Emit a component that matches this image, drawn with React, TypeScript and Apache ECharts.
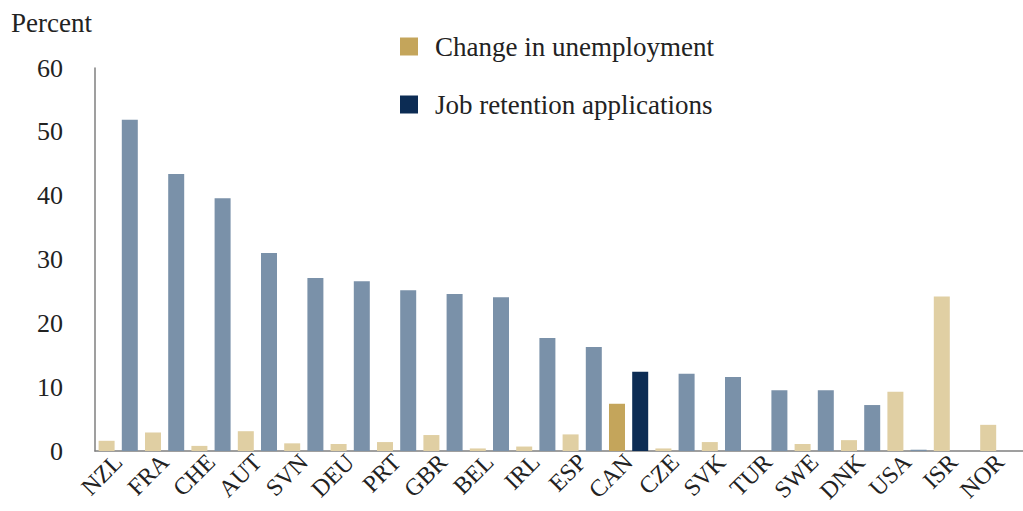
import React, { useEffect, useRef } from "react";
import * as echarts from "echarts";

const categories = ["NZL","FRA","CHE","AUT","SVN","DEU","PRT","GBR","BEL","IRL","ESP","CAN","CZE","SVK","TUR","SWE","DNK","USA","ISR","NOR"];
const unemployment = [1.6, 2.9, 0.8, 3.1, 1.2, 1.1, 1.4, 2.5, 0.4, 0.7, 2.6, 7.4, 0.4, 1.4, 0, 1.1, 1.7, 9.3, 24.2, 4.1];
const jobRetention = [51.9, 43.4, 39.6, 31.0, 27.1, 26.6, 25.2, 24.6, 24.1, 17.7, 16.3, 12.4, 12.1, 11.6, 9.5, 9.5, 7.2, 0.2, null, null];
const yTicks = [0, 10, 20, 30, 40, 50, 60];
const highlight = "CAN";

const FONT = "'Liberation Serif', 'DejaVu Serif', serif";

export default function App() {
  const ref = useRef<HTMLDivElement>(null);
  useEffect(() => {
    const chart = echarts.init(ref.current!, null, { renderer: "svg" });
    chart.setOption({
      animation: false,
      textStyle: { fontFamily: FONT },
      grid: { left: 95, top: 68, width: 940, height: 383, containLabel: false },
      title: {
        text: "Percent",
        left: 6,
        top: 4,
        textStyle: { fontFamily: FONT, fontSize: 27, fontWeight: "normal", color: "#222" },
      },
      legend: {
        orient: "vertical",
        left: 395,
        top: 28,
        itemWidth: 18,
        itemHeight: 18,
        itemGap: 31,
        textStyle: { fontFamily: FONT, fontSize: 27, color: "#222", padding: [0, 0, 0, 12] },
        data: [
          { name: "Change in unemployment", icon: "rect", itemStyle: { color: "#c4a55b" } },
          { name: "Job retention applications", icon: "rect", itemStyle: { color: "#0c2c54" } },
        ],
      },
      xAxis: {
        type: "category",
        data: categories,
        axisLine: { lineStyle: { color: "#7f7f7f", width: 1.5 } },
        axisTick: { show: false },
        axisLabel: { rotate: 45, fontSize: 24, color: "#222", fontFamily: FONT, margin: 7, interval: 0 },
      },
      yAxis: {
        type: "value",
        min: 0,
        max: 60,
        interval: 10,
        splitLine: { show: false },
        axisLine: { show: true, lineStyle: { color: "#7f7f7f", width: 1.5 } },
        axisTick: { show: false },
        axisLabel: {
          fontSize: 26,
          color: "#222",
          fontFamily: FONT,
          margin: 32,
          formatter: (v: number) => (yTicks.includes(v) ? String(v) : ""),
        },
      },
      series: [
        {
          name: "Change in unemployment",
          type: "bar",
          barWidth: 16,
          barGap: "45%",
          itemStyle: { color: "#e0cfa3" },
          data: unemployment.map((v, i) =>
            categories[i] === highlight ? { value: v, itemStyle: { color: "#c4a55b" } } : v
          ),
        },
        {
          name: "Job retention applications",
          type: "bar",
          barWidth: 16,
          barGap: "45%",
          itemStyle: { color: "#7a91a9" },
          data: jobRetention.map((v, i) =>
            categories[i] === highlight ? { value: v, itemStyle: { color: "#0c2c54" } } : v
          ),
        },
      ],
    });
    return () => chart.dispose();
  }, []);
  return <div ref={ref} style={{ width: 1023, height: 511, position: "absolute", left: 0, top: 0 }} />;
}
